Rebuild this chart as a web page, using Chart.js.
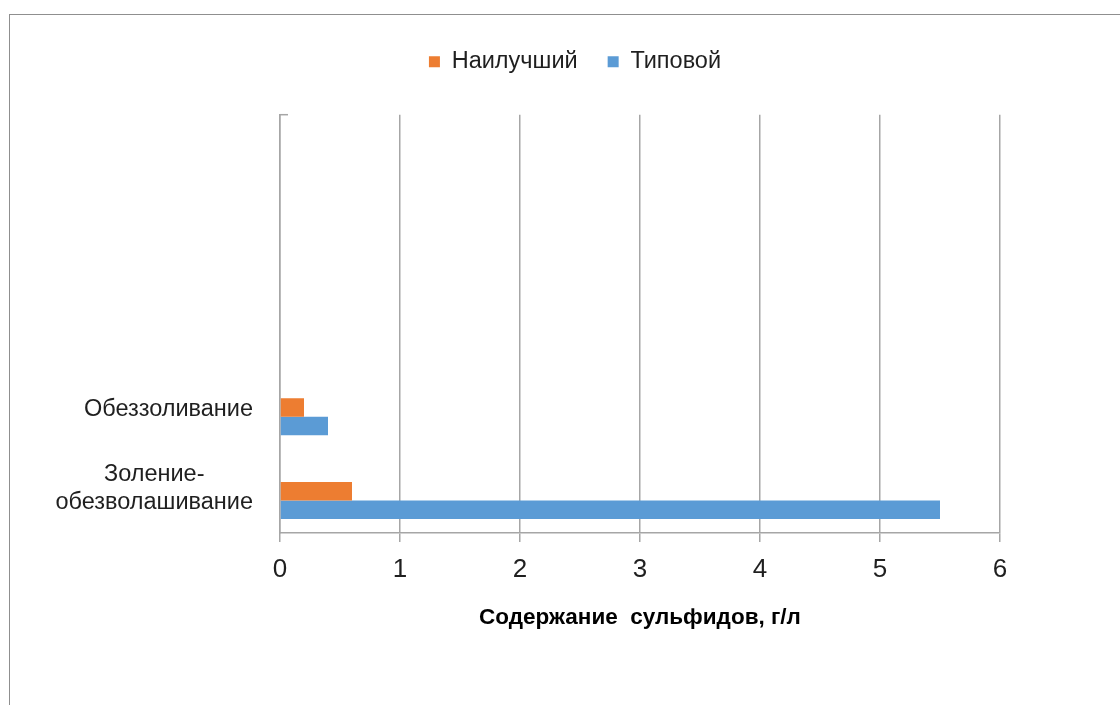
<!DOCTYPE html>
<html>
<head>
<meta charset="utf-8">
<script src="https://cdn.jsdelivr.net/npm/chart.js@4.4.0/dist/chart.umd.min.js"></script>
<style>
  body { margin: 0; background: #fff; overflow: hidden; }
  #ramka { position: absolute; left: 9px; top: 14px; width: 1300px; height: 900px; border: 1.5px solid #8f8f8f; }
  #grafico { position: absolute; left: 0; top: 0; }
</style>
</head>
<body>
<div id="ramka"></div>
<canvas id="grafico" width="1120" height="705"></canvas>
<script>
const categorias = ["", "", "", "Обеззоливание", ["Золение-", "обезволашивание"]];
const nomesSeries = ["Наилучший", "Типовой"];
const valoresMelhor = [null, null, null, 0.2, 0.6];
const valoresTipico = [null, null, null, 0.4, 5.5];
const vazio = [null, null, null, null, null];
const ticksX = [0, 1, 2, 3, 4, 5, 6];
const tituloX = "Содержание  сульфидов, г/л";

const fonte = "'Liberation Sans', Arial, sans-serif";
const corGrade = "#a6a6a6";
const corTexto = "#1f1f1f";

// rótulos do eixo y desenhados à mão para centralizar as linhas como no Excel
const rotulosY = {
  id: "rotulosY",
  afterDraw(chart) {
    const ctx = chart.ctx;
    const y = chart.scales.y;
    const area = chart.chartArea;
    ctx.save();
    ctx.font = "23.5px " + fonte;
    ctx.fillStyle = corTexto;
    ctx.textBaseline = "middle";
    ctx.textAlign = "center";
    categorias.forEach((c, i) => {
      const linhas = Array.isArray(c) ? c : [c];
      if (!linhas[0]) return;
      const largura = Math.max(...linhas.map(l => ctx.measureText(l).width));
      const cx = area.left - 27 - largura / 2;
      const cy = y.getPixelForValue(i) + (linhas.length > 1 ? -3 : 2);
      const alt = 28;
      linhas.forEach((l, k) => {
        ctx.fillText(l, cx, cy + (k - (linhas.length - 1) / 2) * alt);
      });
    });
    // pequeno traço no topo do eixo
    ctx.strokeStyle = corGrade;
    ctx.lineWidth = 1.5;
    ctx.beginPath();
    ctx.moveTo(area.left, area.top);
    ctx.lineTo(area.left + 8, area.top);
    ctx.stroke();
    ctx.restore();
  }
};

const ctxGrafico = document.getElementById("grafico").getContext("2d");

const grafico = new Chart(ctxGrafico, {
  type: "bar",
  data: {
    labels: categorias,
    datasets: [
      { label: "", data: vazio, backgroundColor: "rgba(0,0,0,0)" },
      { label: nomesSeries[0], data: valoresMelhor, backgroundColor: "#ed7d31" },
      { label: nomesSeries[1], data: valoresTipico, backgroundColor: "#5b9bd5" },
    ],
  },
  options: {
    indexAxis: "y",
    responsive: false,
    animation: false,
    devicePixelRatio: 1,
    categoryPercentage: 0.664,
    barPercentage: 1,
    layout: { padding: { top: 20, right: 120, bottom: 0, left: 150 } },
    plugins: {
      tooltip: { enabled: false },
      legend: {
        position: "top",
        labels: {
          filter: item => item.text !== "",
          boxWidth: 11,
          boxHeight: 11,
          padding: 30,
          color: corTexto,
          font: { size: 23.5, family: fonte },
        },
      },
      // espaço vazio entre a legenda e a área do gráfico
      title: {
        display: true,
        text: " ",
        weight: 500,
        font: { size: 1 },
        padding: { top: 0, bottom: 30 },
      },
    },
    scales: {
      x: {
        min: 0,
        max: 6,
        afterBuildTicks: s => { s.ticks = ticksX.map(v => ({ value: v })); },
        afterFit: s => { s.height = 172; },
        ticks: { color: corTexto, padding: 12, font: { size: 26, family: fonte } },
        grid: { color: corGrade, lineWidth: 1.5, tickLength: 9 },
        border: { color: corGrade, width: 1.5 },
        title: {
          display: true,
          text: tituloX,
          color: "#000",
          font: { size: 22.5, weight: "bold", family: fonte },
          padding: { top: 0, bottom: 74 },
        },
      },
      y: {
        afterFit: s => { s.width = 130; },
        ticks: { display: false },
        grid: { display: false },
        border: { color: corGrade, width: 1.5 },
      },
    },
  },
  plugins: [rotulosY],
});
</script>
</body>
</html>
